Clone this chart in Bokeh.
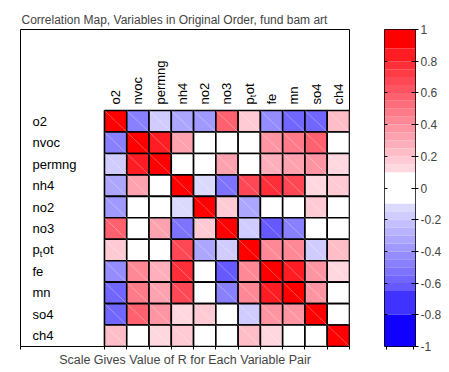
from bokeh.plotting import figure
from bokeh.models import Range1d, LinearAxis, FixedTicker, ColumnDataSource
from bokeh.layouts import row
from bokeh.embed import file_html
from bokeh.resources import INLINE
from bokeh.core.properties import value

# ---------------- data ----------------
variables = ["o2", "nvoc", "permng", "nh4", "no2", "no3", "ptot", "fe", "mn", "so4", "ch4"]

r_o2     = [1.00, -0.47, -0.16, -0.35, -0.39, 0.58, 0.17, -0.43, -0.60, -0.58, 0.23]
r_nvoc   = [-0.47, 1.00, 0.85, 0.31, 0.03, 0.02, 0.05, 0.39, 0.47, 0.58, 0.04]
r_permng = [-0.16, 0.85, 1.00, 0.06, 0.02, 0.31, 0.05, 0.27, 0.31, 0.39, 0.12]
r_nh4    = [-0.35, 0.31, 0.06, 1.00, -0.12, -0.52, 0.70, 0.76, 0.68, 0.12, 0.19]
r_no2    = [-0.39, 0.03, 0.02, -0.12, 1.00, 0.17, -0.31, 0.01, 0.03, 0.19, 0.04]
r_no3    = [0.58, 0.02, 0.31, -0.52, 0.17, 1.00, -0.17, -0.63, -0.48, 0.02, -0.03]
r_ptot   = [0.17, 0.05, 0.05, 0.70, -0.31, -0.17, 1.00, 0.41, 0.41, -0.16, 0.21]
r_fe     = [-0.43, 0.41, 0.27, 0.76, 0.01, -0.63, 0.41, 1.00, 0.85, 0.37, 0.12]
r_mn     = [-0.60, 0.49, 0.31, 0.68, 0.03, -0.48, 0.41, 0.85, 1.00, 0.37, 0.04]
r_so4    = [-0.58, 0.58, 0.39, 0.12, 0.19, 0.02, -0.16, 0.37, 0.37, 1.00, 0.05]
r_ch4    = [0.23, 0.04, 0.12, 0.19, 0.04, -0.03, 0.21, 0.12, 0.04, 0.05, 1.00]

rows_r = [r_o2, r_nvoc, r_permng, r_nh4, r_no2, r_no3, r_ptot, r_fe, r_mn, r_so4, r_ch4]

cbar_ticks = [-1, -0.8, -0.6, -0.4, -0.2, 0, 0.2, 0.4, 0.6, 0.8, 1]
cbar_labels = ["-1", "-0.8", "-0.6", "-0.4", "-0.2", "0", "0.2", "0.4", "0.6", "0.8", "1"]

title_text = "Correlation Map, Variables in Original Order, fund bam art"
bottom_text = "Scale Gives Value of R for Each Variable Pair"

# ---------------- colour scale (banded) ----------------
red_edges = [0.1, 0.15, 0.2, 0.25, 0.3, 0.35, 0.4, 0.45, 0.5, 0.55, 0.6, 0.65, 0.7, 0.75, 0.8, 0.88, 1.0]
blue_edges = [-0.1, -0.15, -0.2, -0.25, -0.3, -0.35, -0.4, -0.45, -0.5, -0.55, -0.6, -0.65, -0.8, -1.0]


def red_col(f):
    g = int(round(255 * (1 - f) ** 1.05))
    b = min(255, g + int(round(60 * f * (1 - f))))
    return "#%02x%02x%02x" % (255, g, b)


def blue_col(f):
    g = int(round(255 * (1 - f)))
    r = min(255, int(round(255 * (1 - f) * 0.93)) + 18)
    return "#%02x%02x%02x" % (r, g, 255)


bands = [(blue_edges[0], red_edges[0], "#ffffff")]
for a, b in zip(red_edges[:-1], red_edges[1:]):
    bands.append((a, b, red_col(b)))
for a, b in zip(blue_edges[:-1], blue_edges[1:]):
    bands.append((b, a, blue_col(-b)))


def color_of(v):
    for lo, hi, c in bands:
        if lo <= v <= hi:
            return c
    return "#ffffff"


FONT = "Liberation Sans"
n = len(variables)
X0 = -3.77  # left edge of the frame, in cell units

# ---------------- main map ----------------
p = figure(width=350, height=370, x_range=Range1d(X0, n), y_range=Range1d(0, 14.78),
           x_axis_type=None, y_axis_type=None, toolbar_location=None,
           output_backend="svg", min_border_left=20, min_border_right=1,
           min_border_top=29, min_border_bottom=24)
p.outline_line_color = "black"
p.outline_line_alpha = 1
p.grid.visible = False
p.background_fill_color = "white"

p.title.text = title_text
p.title.text_font = FONT
p.title.text_font_size = "12px"
p.title.text_font_style = "normal"
p.title.align = "left"
p.title.standoff = 6
p.title.offset = 1

left, right, top, bottom, colors = [], [], [], [], []
for i, rr in enumerate(rows_r):
    for j, v in enumerate(rr):
        left.append(j)
        right.append(j + 1)
        top.append(n - i)
        bottom.append(n - i - 1)
        colors.append(color_of(v))
src = ColumnDataSource(dict(left=left, right=right, top=top, bottom=bottom, color=colors))
p.quad(left="left", right="right", top="top", bottom="bottom", fill_color="color",
       line_color="black", line_width=1.6, source=src)
p.segment(x0="left", y0="top", x1="right", y1="bottom", line_color="white",
          line_alpha=0.3, line_width=1, source=src)

# row labels
row_names = [v for v in variables if v != "ptot"]
row_y = [n - i - 0.5 for i, v in enumerate(variables) if v != "ptot"]
p.text(x=[X0] * len(row_names), y=row_y, text=row_names, x_offset=12,
       text_font=value(FONT), text_font_size="13px", text_align="left",
       text_baseline="middle", text_color="black")
col_names = row_names
col_x = [i + 0.5 for i, v in enumerate(variables) if v != "ptot"]
p.text(x=col_x, y=[n] * len(col_names), text=col_names, y_offset=-6, angle=1.5708,
       text_font=value(FONT), text_font_size="13px", text_align="left",
       text_baseline="middle", text_color="black")

# p_t ot label (subscripted t)
k = variables.index("ptot")
yk = n - k - 0.5
xk = k + 0.5
p.text(x=[X0], y=[yk], text=["p"], x_offset=12, text_font=value(FONT),
       text_font_size="13px", text_align="left", text_baseline="middle")
p.text(x=[X0], y=[yk], text=["t"], x_offset=19.3, y_offset=4, text_font=value(FONT),
       text_font_size="9px", text_align="left", text_baseline="middle")
p.text(x=[X0], y=[yk], text=["ot"], x_offset=22.3, text_font=value(FONT),
       text_font_size="13px", text_align="left", text_baseline="middle")
p.text(x=[xk], y=[n], text=["p"], y_offset=-6, angle=1.5708, text_font=value(FONT),
       text_font_size="13px", text_align="left", text_baseline="middle")
p.text(x=[xk], y=[n], text=["t"], y_offset=-13.3, x_offset=4, angle=1.5708, text_font=value(FONT),
       text_font_size="9px", text_align="left", text_baseline="middle")
p.text(x=[xk], y=[n], text=["ot"], y_offset=-16.3, angle=1.5708, text_font=value(FONT),
       text_font_size="13px", text_align="left", text_baseline="middle")

# bottom axis: tick marks only (as minor ticks, so no tick labels), plus the caption
xax = LinearAxis(ticker=FixedTicker(ticks=[], minor_ticks=[X0] + list(range(n + 1))))
xax.minor_tick_out = 3
xax.minor_tick_in = 0
xax.minor_tick_line_color = "black"
xax.major_tick_line_color = None
xax.axis_line_color = "black"
xax.axis_label = bottom_text
xax.axis_label_text_font = FONT
xax.axis_label_text_font_size = "12.5px"
xax.axis_label_text_font_style = "normal"
xax.axis_label_standoff = 3
p.add_layout(xax, "below")

# ---------------- colour bar ----------------
c = figure(width=97, height=370, x_range=Range1d(0, 1), y_range=Range1d(-1, 1),
           x_axis_type=None, y_axis_type=None, toolbar_location=None,
           output_backend="svg", min_border_left=34, min_border_right=32,
           min_border_top=29, min_border_bottom=24)
c.outline_line_color = "black"
c.outline_line_alpha = 1
c.grid.visible = False
c.quad(left=[0] * len(bands), right=[1] * len(bands),
       bottom=[b[0] for b in bands], top=[b[1] for b in bands],
       fill_color=[b[2] for b in bands], line_color=None)

yax = LinearAxis(ticker=FixedTicker(ticks=cbar_ticks))
yax.major_label_overrides = {t: l for t, l in zip(cbar_ticks, cbar_labels)}
yax.major_label_text_font = FONT
yax.major_label_text_font_size = "12px"
yax.major_label_standoff = 2
yax.major_tick_out = 3
yax.major_tick_in = 4
yax.minor_tick_line_color = None
yax.axis_line_color = None
c.add_layout(yax, "right")

lax = LinearAxis(ticker=FixedTicker(ticks=[], minor_ticks=cbar_ticks[1:-1]))
lax.minor_tick_out = 0
lax.minor_tick_in = 3
lax.minor_tick_line_color = "black"
lax.major_tick_line_color = None
lax.axis_line_color = None
c.add_layout(lax, "left")

bax = LinearAxis(ticker=FixedTicker(ticks=[], minor_ticks=[0.08, 0.92]))
bax.minor_tick_out = 3
bax.minor_tick_in = 0
bax.minor_tick_line_color = "black"
bax.major_tick_line_color = None
bax.axis_line_color = None
c.add_layout(bax, "below")

layout = row(p, c)
open("out.html", "w").write(file_html(layout, INLINE))
